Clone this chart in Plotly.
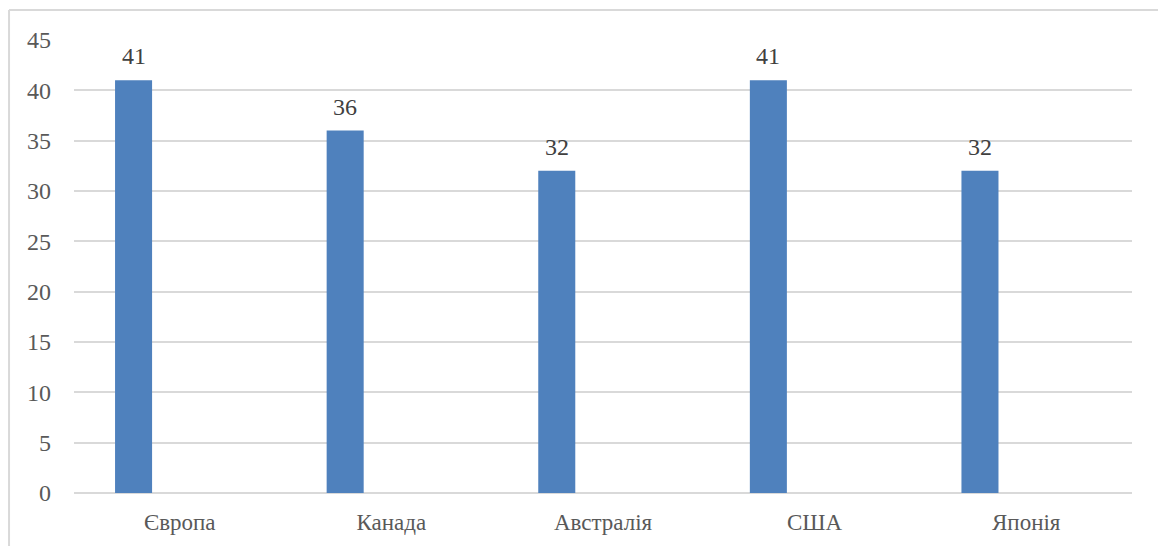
import plotly.graph_objects as go

categories = ["Європа", "Канада", "Австралія", "США", "Японія"]
values = [41, 36, 32, 41, 32]
y_ticks = [0, 5, 10, 15, 20, 25, 30, 35, 40, 45]

FONT = "Liberation Serif"
BAR_COLOR = "#4f81bd"
BAR_WIDTH = 0.175
BAR_OFFSET = -0.306

fig = go.Figure()
fig.add_trace(go.Bar(
    x=categories, y=values,
    marker=dict(color=BAR_COLOR, line=dict(width=0)),
    width=BAR_WIDTH, offset=BAR_OFFSET,
    hoverinfo="x+y",
))

for c, v in zip(categories, values):
    fig.add_annotation(
        x=c, y=v, text=str(v), showarrow=False,
        xshift=(BAR_OFFSET + BAR_WIDTH / 2) * 211.6,
        yanchor="bottom", yshift=9,
        font=dict(family=FONT, size=24, color="#404040"),
    )

# outer frame
fig.add_shape(type="line", xref="paper", yref="paper",
              x0=-0.0614, x1=1.1, y0=1.0662, y1=1.0662,
              line=dict(color="#d9d9d9", width=2))
fig.add_shape(type="line", xref="paper", yref="paper",
              x0=-0.0614, x1=-0.0614, y0=1.0662, y1=-0.2,
              line=dict(color="#d9d9d9", width=2))

fig.update_layout(
    width=1158, height=546,
    margin=dict(l=74, r=26, t=40, b=53),
    paper_bgcolor="white", plot_bgcolor="white",
    showlegend=False,
    font=dict(family=FONT, size=23, color="#595959"),
    xaxis=dict(
        type="category", showgrid=False, ticks="", showline=False,
        tickfont=dict(family=FONT, size=23, color="#595959"),
        ticklabelstandoff=13,
    ),
    yaxis=dict(
        range=[0, 45], tickvals=y_ticks, showgrid=True,
        gridcolor="#d9d9d9", gridwidth=2, zeroline=True,
        zerolinecolor="#d9d9d9", zerolinewidth=2, ticks="",
        tickfont=dict(family=FONT, size=24, color="#595959"),
        ticklabelstandoff=22,
    ),
)

fig.write_html("out.html")
